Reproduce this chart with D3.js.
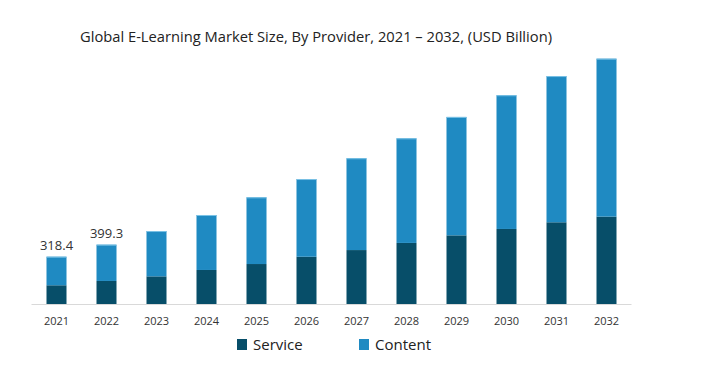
<!DOCTYPE html>
<html>
<head>
<meta charset="utf-8">
<script src="https://cdn.jsdelivr.net/npm/d3@7"></script>
<style>
  body { margin: 0; background: #fff; }
  text { font-family: "Open Sans", "Noto Sans", sans-serif; }
</style>
</head>
<body>
<div id="chart"></div>
<script>
// chart values (USD Billion)
const years = ["2021", "2022", "2023", "2024", "2025", "2026", "2027", "2028", "2029", "2030", "2031", "2032"];
const service = [126, 155, 186, 229, 269, 318, 363, 411, 462, 505, 550, 588];
const content = [192.4, 244.3, 305, 370, 449, 523, 618, 704, 797, 900, 984, 1063];
const totalLabels = ["318.4", "399.3"];
const seriesNames = ["Service", "Content"];
const colors = ["#074e69", "#1f8ac2"];

const width = 721, height = 384;

const svg = d3.select("#chart")
    .append("svg")
    .attr("width", width)
    .attr("height", height);

// title
svg.append("text")
    .attr("x", 80)
    .attr("y", 42)
    .attr("font-size", 15)
    .attr("fill", "#222")
    .attr("textLength", 472)
    .attr("lengthAdjust", "spacingAndGlyphs")
    .text("Global E-Learning Market Size, By Provider, 2021 \u2013 2032, (USD Billion)");

const x = d3.scaleBand()
    .domain(years)
    .range([31.5, 631.5])
    .paddingInner(0.6)
    .paddingOuter(0.3);

const y = d3.scaleLinear()
    .domain([0, 1700])
    .range([304, 51.4]);

// stack the two series
const rows = years.map((yr, i) => ({ year: yr, Service: service[i], Content: content[i] }));
const stacked = d3.stack().keys(seriesNames)(rows);

svg.append("g")
    .selectAll("g")
    .data(stacked)
    .join("g")
    .attr("fill", (d, i) => colors[i])
    .selectAll("rect")
    .data(d => d)
    .join("rect")
    .attr("x", d => x(d.data.year))
    .attr("width", x.bandwidth())
    .attr("y", d => y(d[1]))
    .attr("height", d => y(d[0]) - y(d[1]));

// thin light edge on top of each bar
svg.append("g")
    .selectAll("line")
    .data(rows)
    .join("line")
    .attr("x1", d => x(d.year))
    .attr("x2", d => x(d.year) + x.bandwidth())
    .attr("y1", d => y(d.Service + d.Content) + 0.5)
    .attr("y2", d => y(d.Service + d.Content) + 0.5)
    .attr("stroke", "#7cc3e6")
    .attr("stroke-width", 1);

// x axis
const xAxis = svg.append("g")
    .attr("transform", "translate(0,304)")
    .call(d3.axisBottom(x).tickSize(0).tickPadding(13));
xAxis.select(".domain").attr("stroke", "#d9d9d9").attr("d", "M31.5,0.5H631.5");
xAxis.selectAll("text")
    .attr("font-size", 11)
    .attr("fill", "#333")
    .style("font-family", "'Open Sans', sans-serif");

// value labels on the first two bars
svg.append("g")
    .selectAll("text")
    .data(totalLabels)
    .join("text")
    .attr("x", (d, i) => x(years[i]) + x.bandwidth() / 2)
    .attr("y", (d, i) => y(service[i] + content[i]) - 7)
    .attr("text-anchor", "middle")
    .attr("font-size", 13)
    .attr("fill", "#333")
    .text(d => d);

// legend
const legendX = [237, 359];
const legend = svg.append("g")
    .selectAll("g")
    .data(seriesNames)
    .join("g")
    .attr("transform", (d, i) => `translate(${legendX[i]},339)`);
legend.append("rect")
    .attr("width", 10)
    .attr("height", 11)
    .attr("fill", (d, i) => colors[i]);
legend.append("text")
    .attr("x", 16)
    .attr("y", 11)
    .attr("font-size", 15)
    .attr("fill", "#222")
    .text(d => d);
</script>
</body>
</html>
